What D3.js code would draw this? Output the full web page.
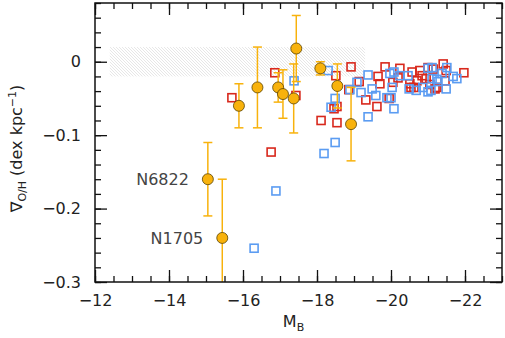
<!DOCTYPE html>
<html>
<head>
<meta charset="utf-8">
<script src="https://cdn.jsdelivr.net/npm/d3@7"></script>
<style>
  body { margin: 0; background: #fff; }
  text { font-family: "DejaVu Sans", sans-serif; }
</style>
</head>
<body>
<div id="chart"></div>
<script>
// ---- data (M_B, gradient in dex/kpc) ----
// dwarf galaxies with error bars (orange)
const dwarfMB   = [-15.05, -15.44, -15.89, -16.39, -16.95, -17.08, -17.44, -17.37, -18.09, -18.55, -18.92];
const dwarfGrad = [-0.160, -0.240, -0.060, -0.035, -0.035, -0.044, 0.018, -0.050, -0.009, -0.033, -0.085];
const dwarfErr  = [0.050, 0.080, 0.030, 0.055, 0.020, 0.033, 0.045, 0.047, 0.009, 0.030, 0.050];

// red squares
const redMB = [-15.70, -16.86, -17.43, -16.76, -18.51, -18.92, -18.86, -18.46, -18.54, -18.11,
               -18.54, -19.14, -19.65, -19.32, -19.62, -19.84, -19.70, -19.95, -20.05, -20.24,
               -20.19, -20.57, -20.51, -20.54, -20.70, -20.78, -20.84, -20.95, -21.00, -21.05,
               -21.24, -21.41, -21.14, -21.49, -21.46, -21.97, -21.19, -20.62];
const redGrad = [-0.049, -0.015, -0.046, -0.123, -0.019, -0.007, -0.038, -0.064, -0.061, -0.080,
                 -0.083, -0.027, -0.020, -0.052, -0.061, -0.007, -0.030, -0.050, -0.028, -0.009,
                 -0.022, -0.014, -0.030, -0.035, -0.026, -0.012, -0.019, -0.023, -0.008, -0.031,
                 -0.035, -0.003, -0.010, -0.012, -0.026, -0.015, -0.037, -0.035];

// blue squares
const blueMB = [-17.38, -18.30, -18.89, -19.08, -18.49, -18.38, -18.49, -18.19, -16.89, -16.30,
                -19.38, -19.19, -19.49, -19.59, -19.38, -20.08, -19.97, -20.08, -20.03, -19.89,
                -20.24, -20.46, -20.49, -20.68, -20.86, -21.00, -21.11, -21.11, -21.00, -21.27,
                -21.38, -21.51, -21.24, -21.68, -21.78, -21.49, -21.08, -20.00];
const blueGrad = [-0.026, -0.012, -0.038, -0.028, -0.050, -0.062, -0.110, -0.125, -0.176, -0.254,
                  -0.018, -0.042, -0.037, -0.046, -0.075, -0.064, -0.016, -0.014, -0.035, -0.049,
                  -0.019, -0.019, -0.037, -0.039, -0.035, -0.009, -0.008, -0.023, -0.041, -0.027,
                  -0.016, -0.008, -0.024, -0.020, -0.023, -0.037, -0.039, -0.049];

// shaded band
const bandMB = [-12.4, -19.3];
const bandGrad = [0.02, -0.02];

// labels
const labelNames = ["N6822", "N1705"];
const labelIdx = [0, 1];

const xMajor = [-12, -14, -16, -18, -20, -22];
const xMinor = d3.range(-12, -23.01, -0.5);
const yMajor = [0, -0.1, -0.2, -0.3];
const yMinor = d3.range(0.08, -0.301, -0.02);

// ---- layout ----
const W = 505, H = 338;
const mLeft = 95, mRight = 502, mTop = 3, mBottom = 282;

const svg = d3.select("#chart").append("svg")
    .attr("width", W).attr("height", H);

const x = d3.scaleLinear().domain([-12, -23]).range([mLeft, mRight]);
const y = d3.scaleLinear().domain([-0.3, 0.08]).range([mBottom, mTop]);

const orange = "#f8b20c";
const red = "#d8281c";
const blue = "#5b9cf2";

const defs = svg.append("defs");

// clip
defs.append("clipPath").attr("id", "clip")
    .append("rect").attr("x", mLeft).attr("y", mTop)
    .attr("width", mRight - mLeft).attr("height", mBottom - mTop);

// hatch pattern
const pat = defs.append("pattern")
    .attr("id", "hatch").attr("patternUnits", "userSpaceOnUse")
    .attr("width", 3).attr("height", 3);
pat.append("path").attr("d", "M-1,-1 L4,4 M-1,2 L1,4 M2,-1 L4,1")
    .attr("stroke", "#cfcfcf").attr("stroke-width", 0.5);

svg.append("rect")
    .attr("x", x(bandMB[0])).attr("y", y(bandGrad[0]))
    .attr("width", x(bandMB[1]) - x(bandMB[0]))
    .attr("height", y(bandGrad[1]) - y(bandGrad[0]))
    .attr("fill", "url(#hatch)");

const plot = svg.append("g").attr("clip-path", "url(#clip)");

// squares
const sq = 8;
const redData = redMB.map((d, i) => ({mb: d, g: redGrad[i]}));
const blueData = blueMB.map((d, i) => ({mb: d, g: blueGrad[i]}));

plot.selectAll(".red").data(redData).enter().append("rect")
    .attr("class", "red")
    .attr("x", d => x(d.mb) - sq / 2).attr("y", d => y(d.g) - sq / 2)
    .attr("width", sq).attr("height", sq)
    .attr("fill", "none").attr("stroke", red).attr("stroke-width", 1.6);

plot.selectAll(".blue").data(blueData).enter().append("rect")
    .attr("class", "blue")
    .attr("x", d => x(d.mb) - sq / 2).attr("y", d => y(d.g) - sq / 2)
    .attr("width", sq).attr("height", sq)
    .attr("fill", "none").attr("stroke", blue).attr("stroke-width", 1.6);

// dwarfs with error bars
const dwarfData = dwarfMB.map((d, i) => ({mb: d, g: dwarfGrad[i], e: dwarfErr[i]}));
const cap = 4.5;

const eb = plot.selectAll(".err").data(dwarfData).enter().append("g").attr("class", "err")
    .attr("stroke", orange).attr("stroke-width", 1.5);
eb.append("line")
    .attr("x1", d => x(d.mb)).attr("x2", d => x(d.mb))
    .attr("y1", d => y(d.g + d.e)).attr("y2", d => y(d.g - d.e));
eb.append("line")
    .attr("x1", d => x(d.mb) - cap).attr("x2", d => x(d.mb) + cap)
    .attr("y1", d => y(d.g + d.e)).attr("y2", d => y(d.g + d.e));
eb.append("line")
    .attr("x1", d => x(d.mb) - cap).attr("x2", d => x(d.mb) + cap)
    .attr("y1", d => y(d.g - d.e)).attr("y2", d => y(d.g - d.e));

plot.selectAll(".dwarf").data(dwarfData).enter().append("circle")
    .attr("class", "dwarf")
    .attr("cx", d => x(d.mb)).attr("cy", d => y(d.g))
    .attr("r", 5.5)
    .attr("fill", orange).attr("stroke", "#5a4200").attr("stroke-width", 0.8);

// galaxy labels
svg.selectAll(".lab").data(labelIdx).enter().append("text")
    .attr("class", "lab")
    .attr("x", i => x(dwarfMB[i]) - 19)
    .attr("y", i => y(dwarfGrad[i]) + 6)
    .attr("text-anchor", "end")
    .attr("font-size", 16).attr("fill", "#444")
    .text((i, k) => labelNames[k]);

// ---- axes ----
function styleAxis(g) {
    g.select(".domain").remove();
    g.selectAll("line").attr("stroke", "#111").attr("stroke-width", 1.3);
    g.selectAll("text").attr("font-size", 16).attr("fill", "#222")
        .attr("font-family", "DejaVu Sans, sans-serif");
}
const yFmt = d => d === 0 ? "0" : d3.format(".1f")(d);

// bottom
svg.append("g").attr("transform", `translate(0,${mBottom})`)
    .call(d3.axisBottom(x).tickValues(xMinor).tickSize(-6).tickFormat(""))
    .call(styleAxis);
svg.append("g").attr("transform", `translate(0,${mBottom})`)
    .call(d3.axisBottom(x).tickValues(xMajor).tickSize(-12).tickPadding(13).tickFormat(d3.format("d")))
    .call(styleAxis);
// top
svg.append("g").attr("transform", `translate(0,${mTop})`)
    .call(d3.axisTop(x).tickValues(xMinor).tickSize(-6).tickFormat(""))
    .call(styleAxis);
svg.append("g").attr("transform", `translate(0,${mTop})`)
    .call(d3.axisTop(x).tickValues(xMajor).tickSize(-12).tickFormat(""))
    .call(styleAxis);
// left
svg.append("g").attr("transform", `translate(${mLeft},0)`)
    .call(d3.axisLeft(y).tickValues(yMinor).tickSize(-6).tickFormat(""))
    .call(styleAxis);
svg.append("g").attr("transform", `translate(${mLeft},0)`)
    .call(d3.axisLeft(y).tickValues(yMajor).tickSize(-12).tickPadding(14).tickFormat(yFmt))
    .call(styleAxis);
// right
svg.append("g").attr("transform", `translate(${mRight},0)`)
    .call(d3.axisRight(y).tickValues(yMinor).tickSize(-6).tickFormat(""))
    .call(styleAxis);
svg.append("g").attr("transform", `translate(${mRight},0)`)
    .call(d3.axisRight(y).tickValues(yMajor).tickSize(-12).tickFormat(""))
    .call(styleAxis);

// frame
svg.append("rect")
    .attr("x", mLeft).attr("y", mTop)
    .attr("width", mRight - mLeft).attr("height", mBottom - mTop)
    .attr("fill", "none").attr("stroke", "#111").attr("stroke-width", 1.5);

// axis titles
const xt = svg.append("text")
    .attr("x", (mLeft + mRight) / 2 - 5).attr("y", 327)
    .attr("text-anchor", "middle").attr("font-size", 16).attr("fill", "#222");
xt.append("tspan").text("M");
xt.append("tspan").attr("font-size", 11).attr("dy", 4).text("B");

const yt = svg.append("text")
    .attr("transform", `translate(22,${(mTop + mBottom) / 2 + 6}) rotate(-90)`)
    .attr("text-anchor", "middle").attr("font-size", 16).attr("fill", "#222");
yt.append("tspan").text("∇");
yt.append("tspan").attr("font-size", 11).attr("dy", 4).text("O/H");
yt.append("tspan").attr("dy", -4).text("  (dex kpc");
yt.append("tspan").attr("font-size", 11).attr("dy", -6).text("−1");
yt.append("tspan").attr("dy", 6).text(")");
</script>
</body>
</html>
